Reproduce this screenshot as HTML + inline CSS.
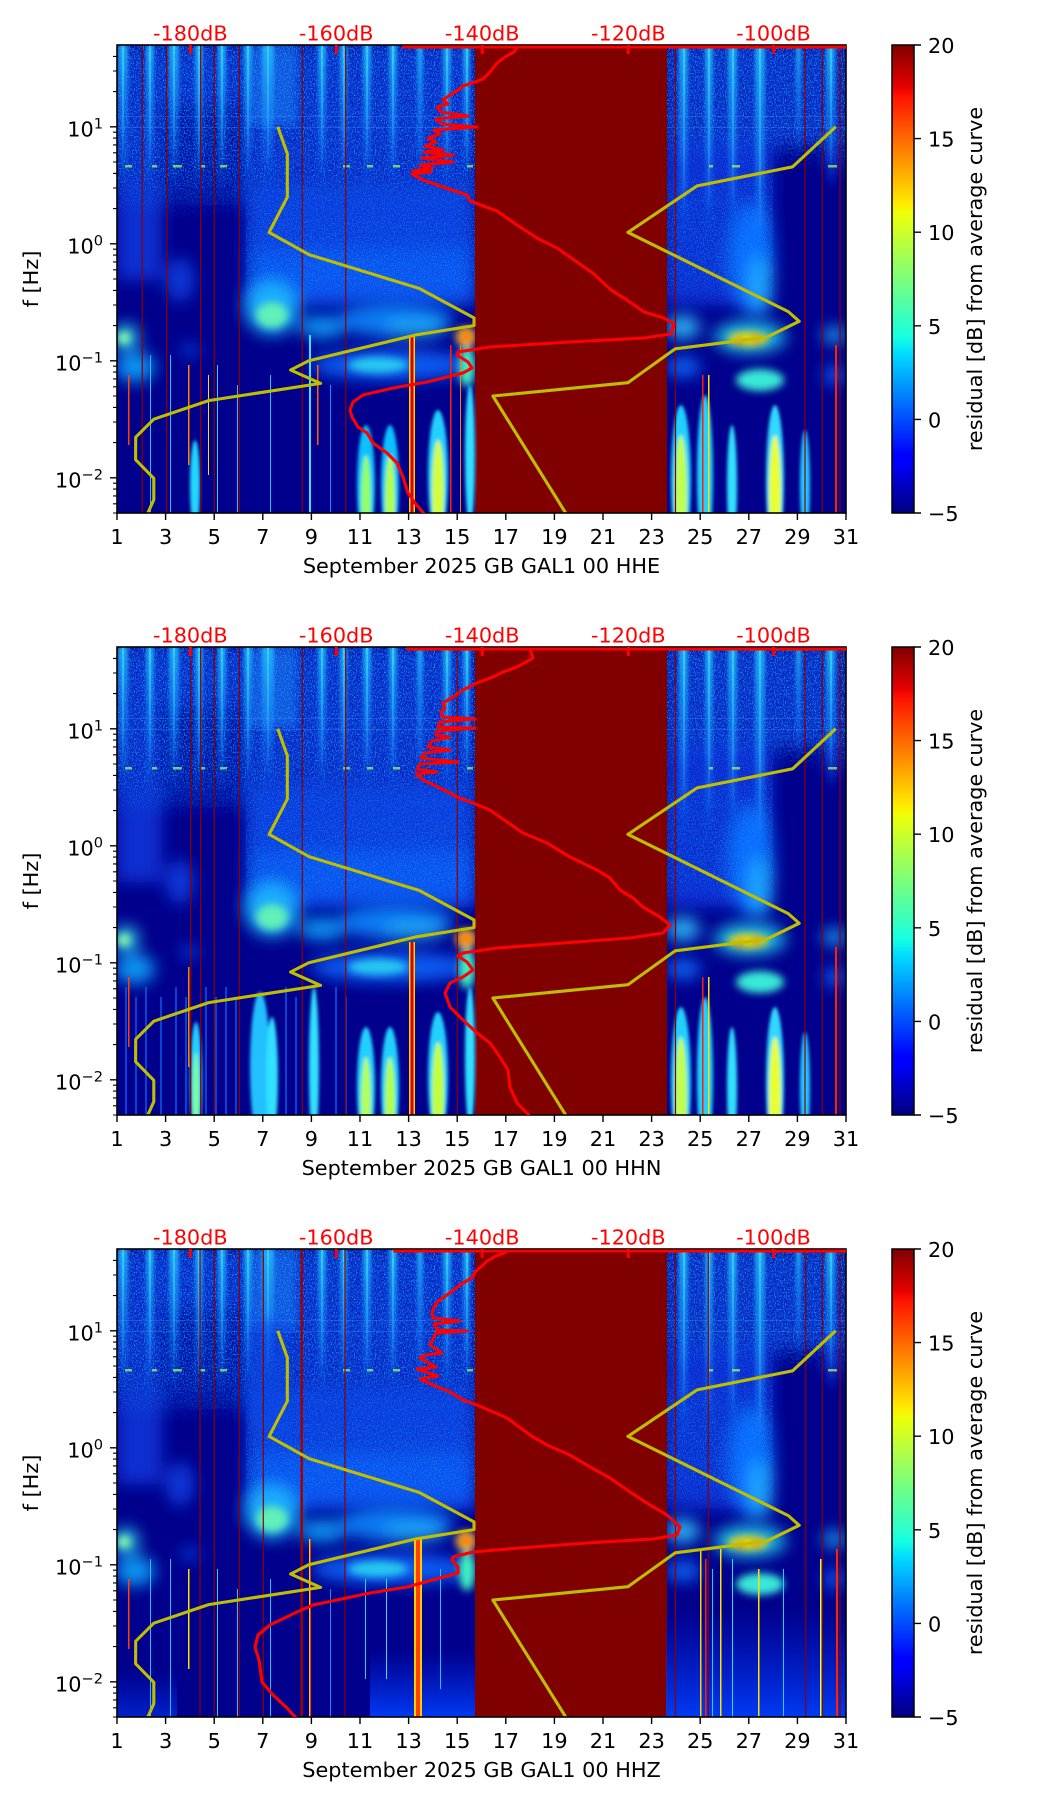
<!DOCTYPE html>
<html><head><meta charset="utf-8"><style>
html,body{margin:0;padding:0;background:#fff;}
svg{display:block;}
text{font-family:"DejaVu Sans","Liberation Sans",sans-serif;font-size:20.8px;fill:#000;}
.r{fill:#ff0000;}
</style></head><body>
<svg xmlns="http://www.w3.org/2000/svg" width="1052" height="1806" viewBox="0 0 1052 1806">
<defs>
<linearGradient id="jet" x1="0" y1="0" x2="0" y2="1">
<stop offset="0" stop-color="#800000"/><stop offset="0.09" stop-color="#e80000"/><stop offset="0.11" stop-color="#ff1300"/>
<stop offset="0.34" stop-color="#ffec00"/><stop offset="0.36" stop-color="#eeff08"/><stop offset="0.5" stop-color="#7bff7b"/>
<stop offset="0.625" stop-color="#15ffe2"/><stop offset="0.66" stop-color="#00dbff"/><stop offset="0.875" stop-color="#0000ff"/>
<stop offset="0.89" stop-color="#0000ff"/><stop offset="1" stop-color="#000080"/>
</linearGradient>
<linearGradient id="sg" x1="0" y1="0" x2="0" y2="1">
<stop offset="0" stop-color="#30c8ff" stop-opacity="0.8"/><stop offset="0.5" stop-color="#2090ff" stop-opacity="0.5"/><stop offset="1" stop-color="#1060ff" stop-opacity="0"/>
</linearGradient>
<linearGradient id="sc" x1="0" y1="0" x2="0" y2="1">
<stop offset="0" stop-color="#50f0ff" stop-opacity="0.7"/><stop offset="0.6" stop-color="#40d0ff" stop-opacity="0.35"/><stop offset="1" stop-color="#40d0ff" stop-opacity="0"/>
</linearGradient>
<linearGradient id="fw" x1="0" y1="0" x2="0" y2="1">
<stop offset="0" stop-color="#fff" stop-opacity="1"/><stop offset="0.72" stop-color="#fff" stop-opacity="0.9"/><stop offset="1" stop-color="#fff" stop-opacity="0"/>
</linearGradient>
<linearGradient id="fw2" x1="0" y1="0" x2="0" y2="1">
<stop offset="0" stop-color="#fff" stop-opacity="0"/><stop offset="0.3" stop-color="#fff" stop-opacity="0.5"/><stop offset="0.75" stop-color="#fff" stop-opacity="0.5"/><stop offset="1" stop-color="#fff" stop-opacity="0"/>
</linearGradient>
<linearGradient id="bb" x1="0" y1="0" x2="0" y2="1">
<stop offset="0" stop-color="#0030f0" stop-opacity="0"/><stop offset="1" stop-color="#0040ff" stop-opacity="0.9"/>
</linearGradient>
<clipPath id="cp"><rect x="117" y="0" width="729" height="468"/></clipPath>
<clipPath id="ca1"><rect x="117" y="45" width="729" height="468"/></clipPath>
<clipPath id="ca2"><rect x="117" y="647" width="729" height="468"/></clipPath>
<clipPath id="ca3"><rect x="117" y="1249" width="729" height="468"/></clipPath>
<filter id="b2" filterUnits="userSpaceOnUse" x="0" y="-100" width="1052" height="700"><feGaussianBlur stdDeviation="1.6"/></filter>
<filter id="b4" filterUnits="userSpaceOnUse" x="0" y="-100" width="1052" height="700"><feGaussianBlur stdDeviation="4"/></filter>
<filter id="b6" filterUnits="userSpaceOnUse" x="0" y="-100" width="1052" height="700"><feGaussianBlur stdDeviation="8"/></filter>
<filter id="spk" filterUnits="userSpaceOnUse" x="0" y="-100" width="1052" height="700">
<feTurbulence type="fractalNoise" baseFrequency="0.9 0.6" numOctaves="2" seed="4" result="t"/>
<feColorMatrix in="t" type="matrix" values="0 0 0 0 0  0 0 0 0 0.4  0 0 0 0 1  0 0 0 4.5 -2.15" result="c"/>
<feComposite in="c" in2="SourceGraphic" operator="in"/>
</filter>

<g id="bg">
<rect x="117" y="0" width="729" height="468" fill="#00008c"/>
<g filter="url(#b6)">
<rect x="117" y="0" width="358" height="148" fill="#0822c4"/>
<rect x="160" y="60" width="85" height="100" fill="#0410a4"/>
<rect x="117" y="140" width="45" height="95" fill="#0a2ed0"/>
<rect x="246" y="140" width="229" height="115" fill="#0a38dc"/>
<rect x="250" y="205" width="225" height="55" fill="#0c50ee"/>
<rect x="666" y="0" width="180" height="100" fill="#0820c0"/>
<rect x="666" y="95" width="107" height="165" fill="#0a2cd0"/>
<rect x="826" y="95" width="16" height="35" fill="#0820c0"/>
<ellipse cx="752" cy="215" rx="22" ry="55" fill="#1068ff"/>
<ellipse cx="760" cy="240" rx="11" ry="30" fill="#20a8ff"/>
<ellipse cx="180" cy="235" rx="14" ry="22" fill="#0838d8"/>
</g>
<rect x="250" y="0" width="47" height="80" fill="#2a90ff" opacity="0.4" filter="url(#b4)"/>
<g filter="url(#b2)">
<rect x="118" y="0" width="10" height="150" fill="url(#sg)"/>
<rect x="146" y="0" width="8" height="150" fill="url(#sg)"/>
<rect x="169" y="0" width="10" height="150" fill="url(#sg)"/>
<rect x="195" y="0" width="8" height="150" fill="url(#sg)"/>
<rect x="218" y="0" width="8" height="150" fill="url(#sg)"/>
<rect x="244" y="0" width="8" height="150" fill="url(#sg)"/>
<rect x="262" y="0" width="12" height="150" fill="url(#sg)"/>
<rect x="318" y="0" width="8" height="150" fill="url(#sg)"/>
<rect x="340" y="0" width="7" height="150" fill="url(#sg)"/>
<rect x="363" y="0" width="8" height="150" fill="url(#sg)"/>
<rect x="389" y="0" width="8" height="150" fill="url(#sg)"/>
<rect x="417" y="0" width="6" height="150" fill="url(#sg)"/>
<rect x="443" y="0" width="8" height="150" fill="url(#sg)"/>
<rect x="463" y="0" width="7" height="150" fill="url(#sg)"/>
<rect x="679" y="0" width="9" height="200" fill="url(#sg)"/>
<rect x="705" y="0" width="8" height="200" fill="url(#sg)"/>
<rect x="728" y="0" width="9" height="200" fill="url(#sg)"/>
<rect x="755" y="0" width="10" height="240" fill="url(#sg)"/>
<rect x="796" y="0" width="5" height="120" fill="url(#sg)"/>
<rect x="826" y="0" width="9" height="150" fill="url(#sg)"/>
</g>
<g fill="url(#sc)">
<rect x="122" y="0" width="2" height="130"/><rect x="149" y="0" width="2" height="130"/><rect x="173" y="0" width="2" height="130"/>
<rect x="198" y="0" width="2" height="130"/><rect x="221" y="0" width="2" height="130"/><rect x="247" y="0" width="2" height="130"/>
<rect x="267" y="0" width="2" height="130"/><rect x="321" y="0" width="2" height="130"/><rect x="343" y="0" width="2" height="130"/>
<rect x="366" y="0" width="2" height="130"/><rect x="392" y="0" width="2" height="130"/><rect x="446" y="0" width="2" height="130"/>
<rect x="466" y="0" width="2" height="130"/><rect x="683" y="0" width="2" height="170"/><rect x="708" y="0" width="2" height="170"/>
<rect x="732" y="0" width="2" height="170"/><rect x="759" y="0" width="2" height="200"/><rect x="830" y="0" width="2" height="130"/>
</g>
<rect x="117" y="0" width="358" height="175" fill="url(#fw)" opacity="0.85" filter="url(#spk)"/>
<rect x="246" y="140" width="229" height="125" fill="url(#fw2)" filter="url(#spk)"/>
<rect x="666" y="0" width="180" height="125" fill="url(#fw)" opacity="0.85" filter="url(#spk)"/>
<rect x="666" y="100" width="107" height="170" fill="url(#fw2)" filter="url(#spk)"/>
<g opacity="0.3" fill="#40a0ff">
<rect x="117" y="71" width="358" height="1"/><rect x="117" y="82" width="358" height="1"/>
<rect x="666" y="71" width="180" height="1"/><rect x="666" y="82" width="180" height="1"/>
</g>
<g fill="#b0ff50" opacity="0.7">
<rect x="125" y="120" width="7" height="2.5"/><rect x="152" y="120" width="5" height="2.5"/><rect x="173" y="120" width="9" height="2.5"/>
<rect x="200" y="120" width="5" height="2.5"/><rect x="220" y="120" width="7" height="2.5"/><rect x="343" y="120" width="7" height="2.5"/>
<rect x="367" y="120" width="6" height="2.5"/><rect x="393" y="120" width="7" height="2.5"/><rect x="467" y="120" width="6" height="2.5"/>
<rect x="709" y="120" width="4" height="2.5"/><rect x="732" y="120" width="8" height="2.5"/><rect x="828" y="120" width="9" height="2.5"/>
</g>
<g filter="url(#b6)" opacity="0.9">
<ellipse cx="126" cy="292" rx="13" ry="13" fill="#30d8f0"/>
<ellipse cx="272" cy="262" rx="28" ry="28" fill="#1ab8ff"/>
<ellipse cx="322" cy="282" rx="24" ry="11" fill="#10a8ff"/>
<ellipse cx="395" cy="275" rx="58" ry="17" fill="#1088ff"/>
<ellipse cx="415" cy="283" rx="32" ry="9" fill="#20b8ff"/>
<ellipse cx="135" cy="322" rx="20" ry="15" fill="#10a8ff"/>
<ellipse cx="190" cy="305" rx="10" ry="5" fill="#0058ff"/>
<ellipse cx="392" cy="320" rx="82" ry="15" fill="#0868ff"/>
<ellipse cx="683" cy="282" rx="17" ry="12" fill="#30c8ff"/>
<ellipse cx="750" cy="292" rx="36" ry="16" fill="#20d0f0"/>
<ellipse cx="834" cy="290" rx="12" ry="8" fill="#20b8ff"/>
<ellipse cx="683" cy="322" rx="18" ry="10" fill="#0870ff"/>
<ellipse cx="834" cy="330" rx="10" ry="10" fill="#0868ff"/>
</g>
<g filter="url(#b4)">
<ellipse cx="124" cy="293" rx="6" ry="6" fill="#90ffa0"/>
<ellipse cx="272" cy="270" rx="16" ry="13" fill="#60f0b8"/>
<ellipse cx="378" cy="320" rx="30" ry="8" fill="#28c8f0"/>
<ellipse cx="467" cy="322" rx="8" ry="20" fill="#40f0c0"/>
<ellipse cx="466" cy="292" rx="10" ry="10" fill="#ffd020"/>
<ellipse cx="466" cy="292" rx="6" ry="5" fill="#ff3000"/>
<ellipse cx="748" cy="294" rx="20" ry="7" fill="#f0e000"/>
<ellipse cx="740" cy="296" rx="5" ry="3" fill="#ff3000"/>
<ellipse cx="756" cy="294" rx="6" ry="3" fill="#ff5000"/>
<ellipse cx="760" cy="335" rx="24" ry="11" fill="#38e8d8"/>
</g>
<rect x="475" y="0" width="192" height="468" fill="#800000"/>
</g>

<g id="lowR">
<g filter="url(#b2)">
<ellipse cx="681" cy="435" rx="10" ry="75" fill="#20d0ff"/><ellipse cx="681" cy="450" rx="6" ry="60" fill="#c0ff50"/>
<ellipse cx="705" cy="430" rx="8" ry="80" fill="#20d0ff"/>
<ellipse cx="732" cy="440" rx="5" ry="60" fill="#30e0ff"/>
<ellipse cx="775" cy="435" rx="9" ry="75" fill="#30d8ff"/><ellipse cx="775" cy="450" rx="6" ry="60" fill="#e8ff30"/>
<ellipse cx="805" cy="440" rx="5" ry="55" fill="#20c8ff"/>
</g>
<rect x="702" y="330" width="1.5" height="138" fill="#ff2000"/>
<rect x="708" y="330" width="1.5" height="138" fill="#ffe000"/>
<rect x="835" y="300" width="2" height="168" fill="#ff2000"/>
</g>

<g id="lowL1">
<g filter="url(#b2)">
<ellipse cx="195" cy="440" rx="5" ry="45" fill="#20d8ff"/>
<ellipse cx="366" cy="440" rx="9" ry="60" fill="#10c0ff"/><ellipse cx="366" cy="455" rx="5" ry="45" fill="#90ff70"/>
<ellipse cx="390" cy="440" rx="9" ry="60" fill="#10c0ff"/><ellipse cx="390" cy="455" rx="5" ry="45" fill="#b0ff50"/>
<ellipse cx="438" cy="430" rx="10" ry="65" fill="#20d0ff"/><ellipse cx="438" cy="445" rx="6" ry="50" fill="#d0ff40"/>
<ellipse cx="470" cy="410" rx="5" ry="70" fill="#30e0ff"/>
</g>
<rect x="128" y="330" width="1.5" height="70" fill="#ff4000"/>
<rect x="150" y="310" width="1" height="158" fill="#20c0ff"/>
<rect x="170" y="310" width="1" height="158" fill="#20c0ff"/>
<rect x="188" y="320" width="1.5" height="100" fill="#ff8000"/>
<rect x="208" y="330" width="1" height="100" fill="#ffe000"/>
<rect x="217" y="320" width="1" height="148" fill="#20d0ff"/>
<rect x="237" y="340" width="1" height="128" fill="#20c0ff"/>
<rect x="270" y="330" width="1" height="138" fill="#20c0ff"/>
<rect x="309" y="290" width="2" height="178" fill="#40e0ff"/>
<rect x="317" y="320" width="1.5" height="80" fill="#ff6000"/>
<rect x="330" y="340" width="1" height="128" fill="#1090ff"/>
<rect x="409" y="290" width="6" height="178" fill="#ffd000"/>
<rect x="410.5" y="290" width="3" height="178" fill="#d00000"/>
<rect x="450" y="300" width="1.5" height="168" fill="#ff2000"/>
<rect x="460" y="300" width="1" height="168" fill="#ff8000"/>
</g>

<g id="lowL2">
<g opacity="0.6" fill="#1070ff">
<rect x="125" y="340" width="2" height="128"/><rect x="135" y="350" width="2" height="118"/><rect x="145" y="340" width="2" height="128"/>
<rect x="160" y="350" width="2" height="118"/><rect x="175" y="340" width="2" height="128"/><rect x="185" y="350" width="2" height="118"/>
<rect x="205" y="340" width="2" height="128"/><rect x="215" y="350" width="2" height="118"/><rect x="225" y="340" width="2" height="128"/>
<rect x="235" y="350" width="2" height="118"/><rect x="285" y="340" width="2" height="128"/><rect x="295" y="350" width="2" height="118"/>
<rect x="335" y="340" width="2" height="128"/><rect x="345" y="350" width="2" height="118"/>
</g>
<g filter="url(#b2)">
<ellipse cx="196" cy="435" rx="6" ry="60" fill="#20d0ff"/><ellipse cx="196" cy="450" rx="3" ry="45" fill="#80ff90"/>
<ellipse cx="260" cy="420" rx="10" ry="75" fill="#20c0ff"/><ellipse cx="272" cy="430" rx="6" ry="60" fill="#30e0ff"/>
<ellipse cx="314" cy="420" rx="5" ry="80" fill="#30e0ff"/>
<ellipse cx="366" cy="440" rx="9" ry="60" fill="#20d0ff"/><ellipse cx="366" cy="455" rx="5" ry="45" fill="#b0ff60"/>
<ellipse cx="390" cy="440" rx="9" ry="60" fill="#20d0ff"/><ellipse cx="390" cy="455" rx="5" ry="45" fill="#b0ff50"/>
<ellipse cx="438" cy="430" rx="10" ry="65" fill="#20d0ff"/><ellipse cx="438" cy="445" rx="6" ry="50" fill="#c0ff40"/>
<ellipse cx="470" cy="410" rx="5" ry="70" fill="#30e0ff"/>
</g>
<rect x="409" y="295" width="6" height="173" fill="#ffd000"/>
<rect x="410.5" y="295" width="3" height="173" fill="#d00000"/>
<rect x="128" y="330" width="1.5" height="70" fill="#ff4000"/>
<rect x="188" y="320" width="1.5" height="100" fill="#ff8000"/>
</g>

<g id="lowL3">
<rect x="370" y="400" width="105" height="68" fill="url(#bb)"/>
<rect x="117" y="420" width="60" height="48" fill="url(#bb)" opacity="0.6"/>
<rect x="666" y="360" width="180" height="108" fill="url(#bb)"/>
<rect x="128" y="330" width="1.5" height="70" fill="#ff4000"/>
<rect x="150" y="310" width="1" height="158" fill="#20c0ff"/>
<rect x="170" y="310" width="1" height="158" fill="#20c0ff"/>
<rect x="188" y="320" width="1.5" height="100" fill="#ffe000"/>
<rect x="217" y="320" width="1" height="148" fill="#20d0ff"/>
<rect x="237" y="340" width="1" height="128" fill="#20c0ff"/>
<rect x="270" y="330" width="1" height="138" fill="#20c0ff"/>
<rect x="309" y="290" width="2" height="178" fill="#ffd000"/>
<rect x="310" y="290" width="1" height="178" fill="#ff3000"/>
<rect x="330" y="340" width="1" height="128" fill="#1090ff"/>
<rect x="365" y="330" width="1" height="100" fill="#20d0ff"/>
<rect x="386" y="330" width="1" height="100" fill="#30e0ff"/>
<rect x="414" y="290" width="8" height="178" fill="#ffd000"/>
<rect x="416" y="290" width="4" height="178" fill="#ff4000"/>
<rect x="440" y="320" width="1" height="120" fill="#20c0ff"/>
<rect x="700" y="300" width="1.5" height="168" fill="#ffd000"/>
<rect x="705" y="310" width="1.5" height="158" fill="#ff2000"/>
<rect x="712" y="320" width="1" height="148" fill="#20d0ff"/>
<rect x="720" y="300" width="1.5" height="168" fill="#ffe000"/>
<rect x="732" y="310" width="1" height="158" fill="#20e0ff"/>
<rect x="758" y="320" width="1.5" height="148" fill="#ffe000"/>
<rect x="783" y="320" width="1" height="148" fill="#20d0ff"/>
<rect x="820" y="310" width="1.5" height="158" fill="#e0ff40"/>
<rect x="836" y="300" width="2" height="168" fill="#ff2000"/>
</g>

<g id="models" fill="none" stroke="#bfbf00" stroke-width="3.1" stroke-linejoin="round">
<polyline points="277.8,81.8 287.3,108.7 287.3,152.2 269.1,187.4 309.2,209.7 418.9,243.3 474,272.9 474,280.6 416.4,289.8 308.8,315.8 290.6,325 320.6,338.4 208.6,355.6 153.8,374.2 135.7,392.2 135.6,414.7 153.8,433.3 153.8,454.7 147.6,468.5"/>
<polyline points="835.7,81.8 792.7,121.8 697.1,140.9 627.9,187.4 788.3,266.6 799.2,276.3 766.4,292.3 675.3,303.8 627.9,337.7 492.9,351 566,468.5"/>
</g>

<g id="axes">
<rect x="117" y="0" width="729" height="468" fill="none" stroke="#000" stroke-width="1.6"/>
<g fill="#ff0000">
<rect x="188.8" y="0" width="3" height="9"/><rect x="334.7" y="0" width="3" height="9"/><rect x="480.7" y="0" width="3" height="9"/>
<rect x="626.8" y="0" width="3" height="9"/><rect x="772" y="0" width="3" height="9"/>
</g>
<g stroke="#000" stroke-width="1.4">
<path d="M117 468v7M165.6 468v7M214.2 468v7M262.8 468v7M311.4 468v7M360 468v7M408.6 468v7M457.2 468v7M505.8 468v7M554.4 468v7M603 468v7M651.6 468v7M700.2 468v7M748.8 468v7M797.4 468v7M846 468v7"/>
<path d="M110 81.8h7M110 198.8h7M110 315.8h7M110 432.8h7"/>
<path stroke-width="1.1" d="M113 11.4h4M113 26h4M113 46.6h4
M113 87.2h4M113 93.1h4M113 99.9h4M113 107.8h4M113 117h4M113 128.4h4M113 143h4M113 163.6h4
M113 204.2h4M113 210.1h4M113 216.9h4M113 224.8h4M113 234h4M113 245.4h4M113 260h4M113 280.6h4
M113 321.2h4M113 327.1h4M113 333.9h4M113 341.8h4M113 351h4M113 362.4h4M113 377h4M113 397.6h4
M113 438.2h4M113 444.1h4M113 450.9h4M113 458.8h4M113 468h4"/>
<path d="M914 0h7M914 93.6h7M914 187.2h7M914 280.8h7M914 374.4h7M914 468h7"/>
</g>
<rect x="892" y="0" width="22" height="468" fill="url(#jet)" stroke="#000" stroke-width="1.5"/>
</g>
</defs>

<rect x="0" y="0" width="1052" height="1806" fill="#fff"/>

<!-- Plot 1 -->
<g transform="translate(0,45)">
<g clip-path="url(#cp)">
<use href="#bg"/>
<use href="#lowL1"/>
<use href="#lowR"/>
<path stroke="#8a0000" stroke-width="1.2" d="M142.3 0v468M166.7 0v468M200.7 0v468M214.3 0v468M239.3 0v468M302.3 0v468M345.7 0v468M675.5 0v468M805 0v468M822.3 0v468M840 0v468"/>
<use href="#models"/>
</g>
<use href="#axes"/>
</g>
<g clip-path="url(#ca1)" fill="none" stroke="#ff0000" stroke-width="3.1" stroke-linejoin="round">
<path d="M402 47H846"/>
<polyline points="517,48 514,52 505,57 497,63 490,72 483,79 475,82 463,86 458,90 450,95 443,100 448,104 437,107 441,112 468,116 436,119 442,124 477,127 434,130 440,134 428,138 436,142 425,146 443,150 424,152 453,155 422,158 453,162 420,165 432,168 413,171 431,172 412,174 423,180 443,187 467,195 470,201 497,211 517,225 537,238 557,248 577,262 594,274 611,290 627,300 644,312 664,318 674,324 671,334 644,338 570,342 490,347 458,352 457,355 468,362 472,368 463,373 427,382 393,388 363,395 353,402 350,410 352,417 358,427 367,433 373,443 387,453 397,463 403,477 408,493 415,503 425,515"/>
</g>

<!-- Plot 2 -->
<g transform="translate(0,647)">
<g clip-path="url(#cp)">
<use href="#bg"/>
<use href="#lowL2"/>
<use href="#lowR"/>
<path stroke="#8a0000" stroke-width="1.2" d="M190.7 0v468M200.7 0v468M214.3 0v468M239.3 0v468M302.3 0v468M345.7 0v468M457.3 0v468M675.5 0v468M805 0v468M822.3 0v468M840 0v468"/>
<use href="#models"/>
</g>
<use href="#axes"/>
</g>
<g clip-path="url(#ca2)" fill="none" stroke="#ff0000" stroke-width="3.1" stroke-linejoin="round">
<path d="M406 649H846"/>
<polyline points="530,650 533,658 517,667 503,672 493,677 477,683 463,690 453,697 443,703 445,708 441,712 442,717 475,719 440,722 438,727 475,728 437,731 436,735 450,737 432,741 428,747 450,750 425,753 421,758 458,762 420,764 417,769 437,772 416,774 423,780 440,788 457,797 473,803 490,810 507,822 523,833 547,843 570,857 597,870 610,878 620,890 633,898 643,907 660,917 670,925 663,933 630,938 563,943 497,948 463,953 458,956 467,962 473,970 463,977 450,983 445,993 450,1007 463,1020 477,1033 490,1043 500,1057 508,1070 510,1087 517,1103 527,1113 531,1118"/>
</g>

<!-- Plot 3 -->
<g transform="translate(0,1249)">
<g clip-path="url(#cp)">
<use href="#bg"/>
<rect x="250" y="70" width="37" height="110" fill="#1048e8" opacity="0.5" filter="url(#b4)"/>
<use href="#lowL3"/>
<path stroke="#8a0000" stroke-width="1.2" d="M200 0v468M214.3 0v468M239.3 0v468M263.3 0v468M345 0v468M675.5 0v468M708.3 0v468M805.7 0v468M822.3 0v468M840 0v468"/>
<path stroke="#a00000" stroke-width="2.5" d="M301.7 0v468"/>
<use href="#models"/>
</g>
<use href="#axes"/>
</g>
<g clip-path="url(#ca3)" fill="none" stroke="#ff0000" stroke-width="3.1" stroke-linejoin="round">
<path d="M393 1251H846"/>
<polyline points="507,1252 496,1256 487,1261 483,1265 475,1272 473,1277 460,1285 447,1295 437,1302 432,1312 433,1318 460,1321 434,1324 437,1330 467,1331 436,1333 430,1345 442,1353 425,1355 420,1358 436,1367 417,1369 438,1376 420,1379 433,1385 450,1392 463,1400 477,1405 507,1418 530,1435 547,1445 570,1455 590,1467 610,1478 630,1492 650,1505 667,1515 680,1527 677,1535 653,1539 587,1543 520,1548 473,1552 453,1557 452,1560 458,1567 458,1573 440,1578 407,1587 370,1593 337,1600 313,1605 297,1612 270,1625 258,1635 255,1647 259,1660 262,1682 273,1695 287,1708 297,1719"/>
</g>

<!-- Text plot 1 -->
<g>
<text class="r" x="190.3" y="40.5" text-anchor="middle">-180dB</text>
<text class="r" x="336.2" y="40.5" text-anchor="middle">-160dB</text>
<text class="r" x="482.2" y="40.5" text-anchor="middle">-140dB</text>
<text class="r" x="628.3" y="40.5" text-anchor="middle">-120dB</text>
<text class="r" x="773.5" y="40.5" text-anchor="middle">-100dB</text>
<g text-anchor="middle">
<text x="117" y="544">1</text><text x="165.6" y="544">3</text><text x="214.2" y="544">5</text><text x="262.8" y="544">7</text>
<text x="311.4" y="544">9</text><text x="360" y="544">11</text><text x="408.6" y="544">13</text><text x="457.2" y="544">15</text>
<text x="505.8" y="544">17</text><text x="554.4" y="544">19</text><text x="603" y="544">21</text><text x="651.6" y="544">23</text>
<text x="700.2" y="544">25</text><text x="748.8" y="544">27</text><text x="797.4" y="544">29</text><text x="846" y="544">31</text>
<text x="481.5" y="573">September 2025 GB GAL1 00 HHE</text>
</g>
<g text-anchor="end">
<text x="103" y="136.3">10<tspan font-size="14.6" dy="-8">1</tspan></text>
<text x="103" y="253.3">10<tspan font-size="14.6" dy="-8">0</tspan></text>
<text x="103" y="370.3">10<tspan font-size="14.6" dy="-8">−1</tspan></text>
<text x="103" y="487.3">10<tspan font-size="14.6" dy="-8">−2</tspan></text>
</g>
<text x="928" y="53">20</text><text x="928" y="146.6">15</text><text x="928" y="240.2">10</text>
<text x="928" y="333.8">5</text><text x="928" y="427.4">0</text><text x="928" y="521">−5</text>
<text transform="translate(38,279) rotate(-90)" text-anchor="middle">f [Hz]</text>
<text transform="translate(982,279) rotate(-90)" text-anchor="middle">residual [dB] from average curve</text>
</g>

<!-- Text plot 2 -->
<g transform="translate(0,602)">
<text class="r" x="190.3" y="40.5" text-anchor="middle">-180dB</text>
<text class="r" x="336.2" y="40.5" text-anchor="middle">-160dB</text>
<text class="r" x="482.2" y="40.5" text-anchor="middle">-140dB</text>
<text class="r" x="628.3" y="40.5" text-anchor="middle">-120dB</text>
<text class="r" x="773.5" y="40.5" text-anchor="middle">-100dB</text>
<g text-anchor="middle">
<text x="117" y="544">1</text><text x="165.6" y="544">3</text><text x="214.2" y="544">5</text><text x="262.8" y="544">7</text>
<text x="311.4" y="544">9</text><text x="360" y="544">11</text><text x="408.6" y="544">13</text><text x="457.2" y="544">15</text>
<text x="505.8" y="544">17</text><text x="554.4" y="544">19</text><text x="603" y="544">21</text><text x="651.6" y="544">23</text>
<text x="700.2" y="544">25</text><text x="748.8" y="544">27</text><text x="797.4" y="544">29</text><text x="846" y="544">31</text>
<text x="481.5" y="573">September 2025 GB GAL1 00 HHN</text>
</g>
<g text-anchor="end">
<text x="103" y="136.3">10<tspan font-size="14.6" dy="-8">1</tspan></text>
<text x="103" y="253.3">10<tspan font-size="14.6" dy="-8">0</tspan></text>
<text x="103" y="370.3">10<tspan font-size="14.6" dy="-8">−1</tspan></text>
<text x="103" y="487.3">10<tspan font-size="14.6" dy="-8">−2</tspan></text>
</g>
<text x="928" y="53">20</text><text x="928" y="146.6">15</text><text x="928" y="240.2">10</text>
<text x="928" y="333.8">5</text><text x="928" y="427.4">0</text><text x="928" y="521">−5</text>
<text transform="translate(38,279) rotate(-90)" text-anchor="middle">f [Hz]</text>
<text transform="translate(982,279) rotate(-90)" text-anchor="middle">residual [dB] from average curve</text>
</g>

<!-- Text plot 3 -->
<g transform="translate(0,1204)">
<text class="r" x="190.3" y="40.5" text-anchor="middle">-180dB</text>
<text class="r" x="336.2" y="40.5" text-anchor="middle">-160dB</text>
<text class="r" x="482.2" y="40.5" text-anchor="middle">-140dB</text>
<text class="r" x="628.3" y="40.5" text-anchor="middle">-120dB</text>
<text class="r" x="773.5" y="40.5" text-anchor="middle">-100dB</text>
<g text-anchor="middle">
<text x="117" y="544">1</text><text x="165.6" y="544">3</text><text x="214.2" y="544">5</text><text x="262.8" y="544">7</text>
<text x="311.4" y="544">9</text><text x="360" y="544">11</text><text x="408.6" y="544">13</text><text x="457.2" y="544">15</text>
<text x="505.8" y="544">17</text><text x="554.4" y="544">19</text><text x="603" y="544">21</text><text x="651.6" y="544">23</text>
<text x="700.2" y="544">25</text><text x="748.8" y="544">27</text><text x="797.4" y="544">29</text><text x="846" y="544">31</text>
<text x="481.5" y="573">September 2025 GB GAL1 00 HHZ</text>
</g>
<g text-anchor="end">
<text x="103" y="136.3">10<tspan font-size="14.6" dy="-8">1</tspan></text>
<text x="103" y="253.3">10<tspan font-size="14.6" dy="-8">0</tspan></text>
<text x="103" y="370.3">10<tspan font-size="14.6" dy="-8">−1</tspan></text>
<text x="103" y="487.3">10<tspan font-size="14.6" dy="-8">−2</tspan></text>
</g>
<text x="928" y="53">20</text><text x="928" y="146.6">15</text><text x="928" y="240.2">10</text>
<text x="928" y="333.8">5</text><text x="928" y="427.4">0</text><text x="928" y="521">−5</text>
<text transform="translate(38,279) rotate(-90)" text-anchor="middle">f [Hz]</text>
<text transform="translate(982,279) rotate(-90)" text-anchor="middle">residual [dB] from average curve</text>
</g>
</svg>
</body></html>
